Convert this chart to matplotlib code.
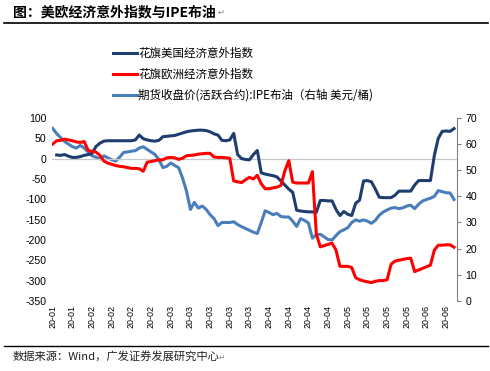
import numpy as np
import pandas as pd
import matplotlib
matplotlib.use("Agg")
import matplotlib.pyplot as plt
from matplotlib.lines import Line2D

plt.rcParams["font.family"] = ["Noto Sans CJK SC", "DejaVu Sans"]
plt.rcParams["axes.unicode_minus"] = False

# 日期（交易日）
dates = pd.bdate_range("2020-01-20", periods=103)
tick_labels = [d.strftime("%y-%m") for d in dates[::5]]

# 花旗美国经济意外指数（左轴）
us_cesi = [None, 9, 8, 10, 6, 3, 3, 5, 8, 10,
           13, 30, 38, 43, 44, 44, 44, 44, 44, 44,
           44, 46, 58, 49, 46, 44, 43, 45, 54, 55,
           56, 57, 60, 63, 66, 68, 69, 70, 70, 69,
           66, 61, 58, 45, 44, 46, 62, 10, 0, -2,
           -3, 10, 20, -35, -38, -40, -42, -45, -55, -65,
           -75, -83, -127, -129, -130, -131, -131, -132, -103, -103,
           -104, -104, -125, -140, -130, -137, -140, -110, -102, -55,
           -54, -57, -75, -95, -96, -96, -96, -90, -80, -80,
           -80, -80, -65, -54, -54, -54, -54, 8, 50, 67,
           68, 67, 74]

# 花旗欧洲经济意外指数（左轴）
eu_cesi = [36, 44, 45, 48, 46, 44, 41, 40, 42, 20,
           18, 16, 8, -6, -11, -14, -17, -19, -20, -22,
           -24, -24, -25, -31, -9, -7, -5, -3, -3, 2,
           3, 2, -2, 1, 7, 8, 9, 11, 12, 13,
           13, 4, 3, 3, 2, 1, -55, -57, -59, -52,
           -46, -50, -41, -62, -74, -74, -72, -70, -66, -30,
           -5, -58, -60, -60, -60, -60, -32, -185, -217, -214,
           -211, -208, -225, -265, -265, -265, -268, -293, -298, -301,
           -303, -305, -302, -300, -300, -298, -260, -252, -250, -248,
           -246, -245, -278, -274, -270, -266, -262, -225, -213, -213,
           -212, -212, -218]

# 期货收盘价(活跃合约):IPE布油（右轴）
brent = [66, 64, 62.5, 61, 60, 59, 58.5, 59.5, 58.5, 57,
         55.5, 55, 54.3, 55.5, 54.8, 54, 53.5, 55, 56.8, 57,
         57.3, 57.5, 58.5, 59, 58, 57, 56, 54, 51, 51.5,
         52.8, 51.8, 51, 47, 42, 35, 37.7, 35.5, 36.3, 35,
         33, 31.5, 28.8, 30, 30, 30, 30.3, 29.2, 28.4, 27.7,
         27, 26.3, 25.8, 30, 34.5, 33.8, 33, 33.5, 32.3, 32.1,
         32.1, 30.5, 28.5, 31.5, 30.8, 29.8, 24, 25.3, 25.5, 24.5,
         23.5, 23.3, 25, 26.5, 27.2, 28, 30, 31, 30.5, 31,
         30.5, 29.7, 30.8, 32.8, 34, 34.8, 35.5, 35.7, 35.3, 35.6,
         36.3, 36.6, 35.3, 37, 38.2, 38.8, 39.3, 40, 42.2, 41.8,
         41.4, 41.3, 38.8]

labels = ["花旗美国经济意外指数", "花旗欧洲经济意外指数",
          "期货收盘价(活跃合约):IPE布油（右轴 美元/桶)"]
colors = ["#1F3D6E", "#FF0000", "#4A7EBB"]

x = np.arange(len(dates))
us = np.array([np.nan if v is None else v for v in us_cesi], dtype=float)

fig = plt.figure(figsize=(4.9, 3.71), dpi=100)
ax = fig.add_axes([0.106, 0.189, 0.827, 0.493])
ax2 = ax.twinx()

ax.axhline(0, color="#C8C8C8", linewidth=0.9, zorder=0)
ax.plot(x, us, color=colors[0], linewidth=2.2, zorder=3)
ax.plot(x, eu_cesi, color=colors[1], linewidth=2.2, zorder=3)
ax2.plot(x, brent, color=colors[2], linewidth=2.2, zorder=2)
ax.set_zorder(ax2.get_zorder() + 1)
ax.patch.set_visible(False)

ax.set_xlim(-0.2, 102.8)
ax.set_ylim(-350, 100)
ax.set_yticks(range(-350, 101, 50))
ax2.set_ylim(0, 70)
ax2.set_yticks(range(0, 71, 10))

ax.set_xticks(x[::5])
ax.set_xticklabels(tick_labels, rotation=90, fontsize=6.4,
                   family=["Liberation Sans", "DejaVu Sans"])
for lab in ax.get_yticklabels():
    lab.set_fontsize(7.6)
    lab.set_family(["Liberation Sans", "DejaVu Sans"])
for lab in ax2.get_yticklabels():
    lab.set_fontsize(7.6)
    lab.set_family(["Liberation Sans", "DejaVu Sans"])

ax.tick_params(axis="x", length=0, pad=3)
ax.tick_params(axis="y", length=0, pad=4)
ax2.tick_params(axis="y", length=3, width=0.8, color="#808080", pad=3)

for s in ["top", "bottom", "left", "right"]:
    ax.spines[s].set_visible(False)
    ax2.spines[s].set_visible(False)
ax2.spines["right"].set_visible(True)
ax2.spines["right"].set_color("#808080")
ax2.spines["right"].set_linewidth(0.8)

# 图例
handles = [Line2D([], [], color=c, linewidth=2.2) for c in colors]
fig.legend(handles, labels, loc="upper left",
           bbox_to_anchor=(108 / 490, 1 - 42 / 371),
           frameon=False, fontsize=8.3, handlelength=2.1,
           handletextpad=0.1, labelspacing=0.7, borderaxespad=0)

# 标题与来源
fig.text(13 / 490, 1 - 12 / 371, "图：美欧经济意外指数与IPE布油", fontsize=10,
         fontweight="bold", va="center", ha="left")
fig.text(218 / 490, 1 - 12 / 371, "↵", fontsize=6, color="#888888",
         va="center", ha="left", family=["DejaVu Sans"])
fig.add_artist(Line2D([4 / 490, 488 / 490], [1 - 23 / 371] * 2,
                      color="black", linewidth=1.2))
fig.add_artist(Line2D([4 / 490, 488 / 490], [1 - 346 / 371] * 2,
                      color="black", linewidth=1.0))
fig.text(13 / 490, 1 - 357 / 371, "数据来源：Wind，广发证券发展研究中心", fontsize=8.1,
         va="center", ha="left", color="#222222")
fig.text(219 / 490, 1 - 357 / 371, "↵", fontsize=5.5, color="#888888",
         va="center", ha="left", family=["DejaVu Sans"])

fig.savefig("out.png", dpi=100)
